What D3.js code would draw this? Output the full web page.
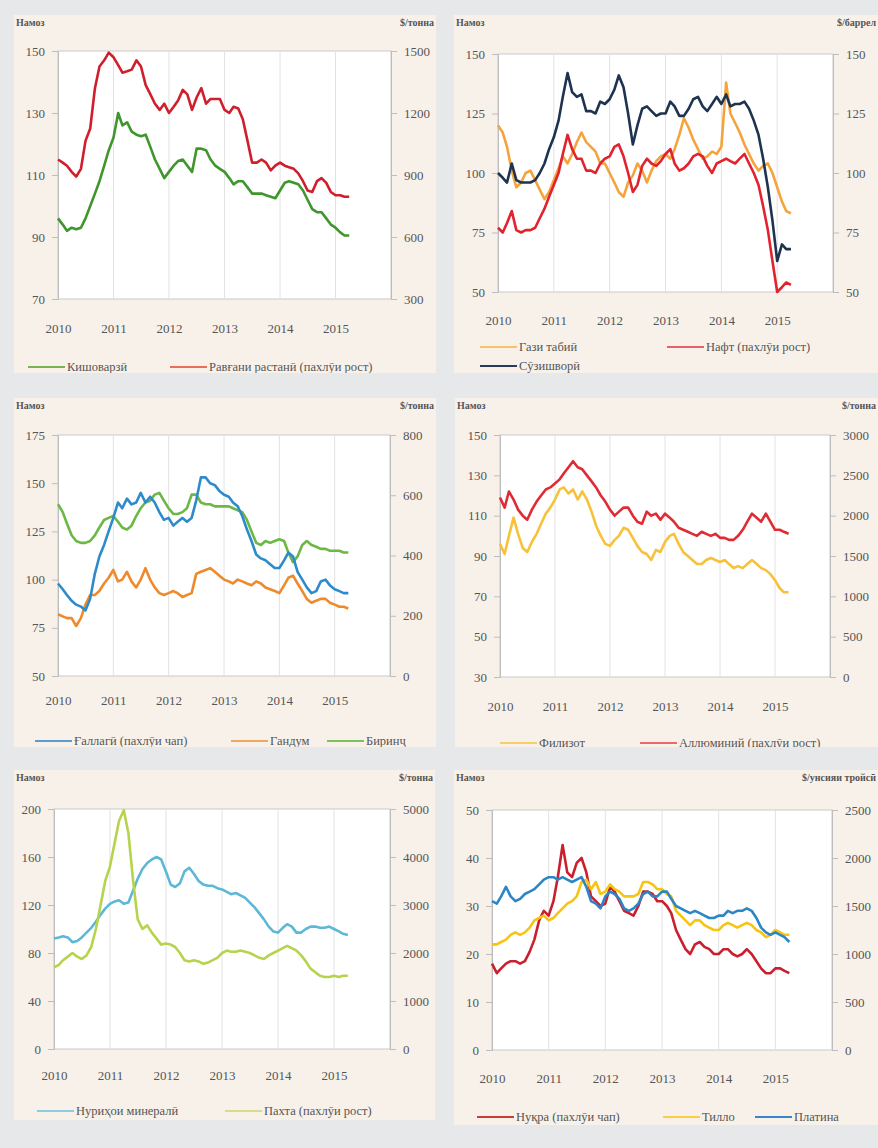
<!DOCTYPE html>
<html><head><meta charset="utf-8">
<script src="https://cdn.jsdelivr.net/npm/d3@7"></script>
<style>
body{margin:0;background:#e6e8ea;}
svg{display:block;}
svg text{font-family:"Liberation Serif","DejaVu Serif",serif;}
</style></head>
<body>
<svg id="chart" width="878" height="1148"></svg>
<script>
// ---------- DATA (monthly, Jan 2010 – Apr 2015) ----------
const yearLabels = ["2010","2011","2012","2013","2014","2015"];

// Panel 1
const agriculture = [96,94,92,93,92.5,93,96,100,104,108,113,118, 122,130,126,127,124,123,122.5,123,119,115,112,109, 111,113,114.5,115,113,111,118.5,118.5,118,115,113,112, 111,109,107,108,108,106,104,104,104,103.5,103,102.5, 105,107.5,108,107.5,107,105,102,99,98,98,96,94, 93,91.5,90.5,90.5];
const vegOil = [975,960,945,915,892,930,1065,1125,1320,1425,1455,1492, 1470,1432,1395,1402,1410,1455,1425,1335,1290,1245,1215,1245, 1200,1230,1260,1312,1290,1215,1275,1320,1245,1268,1268,1268, 1215,1200,1230,1222,1170,1065,960,960,975,960,922,945, 960,945,938,930,908,870,825,818,870,885,862,818, 802,802,795,795];

// Panel 2
const natGas = [120,117,111,101,94,96,100,101,97,93,89,92, 97,102,107,104,108,113,117,113,111,109,104,104, 100,96,92,90,96,99,104,101,96,101,105,107, 108,106,110,116,123,119,114,110,106,107,109,108, 111,138,125,121,117,112,108,104,101,103,104,100, 94,88,84,83];
const oil = [77,75,79,84,76,75,76,76,77,81,85,90, 95,100,108,116,110,106,106,101,101,100,104,106, 107,111,112,107,100,92,95,103,106,104,103,105, 108,110,104,101,102,104,107,108,107,103,100,104, 105,106,105,104,106,108,104,100,95,86,76,63, 50,52,54,53];
const energy = [100,98,96,104,97,96,96,96,97,100,104,110, 115,122,132,142,134,132,133,126,126,125,130,129, 131,135,141,136,125,112,120,127,128,126,124,125, 125,130,128,124,124,127,131,132,128,126,129,132, 129,133,128,129,129,130,127,122,116,106,94,80, 63,70,68,68];

// Panel 3
const grains = [98,95,92,89,87,86,84,90,103,112,118,125, 132,140,137,142,139,140,145,140,143,140,135,131, 132,128,130,132,130,132,141,153,153,150,149,146, 144,143,140,138,133,126,120,113,111,110,108,106, 106,110,114,112,104,100,96,93,94,99,100,97, 95,94,93,93];
const wheat = [205,198,192,192,166,192,237,269,269,282,307,326, 352,314,320,346,314,294,320,358,320,294,275,269, 275,282,275,262,269,275,339,346,352,358,346,333, 320,314,307,320,314,307,301,314,307,294,288,282, 275,301,326,333,307,282,256,243,250,256,256,243, 237,230,230,224];
const rice = [570,544,506,467,448,442,442,448,467,493,518,525, 531,512,493,486,499,531,557,576,582,602,608,582, 557,538,538,544,557,602,602,576,570,570,563,563, 563,563,557,550,544,518,480,442,435,448,442,448, 454,448,410,378,397,435,448,435,429,422,422,416, 416,416,410,410];

// Panel 4
const metals = [96,91,100,109,101,94,92,97,101,106,111,114, 118,123,124,121,123,118,122,118,112,105,100,96, 95,98,100,104,103,99,95,92,91,88,93,92, 97,100,101,96,92,90,88,86,86,88,89,88, 87,88,86,84,85,84,86,88,86,84,83,81, 78,74,72,72];
const aluminium = [2225,2100,2300,2200,2075,2000,1950,2075,2175,2250,2325,2350, 2400,2450,2525,2600,2675,2600,2575,2500,2425,2350,2250,2175, 2075,2000,2050,2100,2100,2000,1925,1900,2050,2000,2025,1950, 2025,1975,1925,1850,1825,1800,1775,1750,1800,1775,1750,1775, 1725,1725,1700,1700,1750,1825,1925,2025,1975,1925,2025,1925, 1825,1825,1800,1775];

// Panel 5
const fertilizers = [92,93,94,93,89,90,93,97,101,106,112,117, 121,123,124,121,122,132,142,150,155,158,160,158, 148,137,135,138,148,151,146,140,137,136,136,134, 133,131,129,130,128,126,122,118,113,108,102,98, 97,101,104,102,97,97,100,102,102,101,101,102, 100,98,96,95];
const cotton = [1700,1750,1850,1925,2000,1925,1875,1950,2125,2500,3000,3500, 3800,4300,4750,4975,4500,3500,2700,2500,2575,2425,2300,2175, 2200,2175,2125,2000,1850,1825,1850,1825,1775,1800,1850,1900, 2000,2050,2025,2025,2050,2025,2000,1950,1900,1875,1950,2000, 2050,2100,2150,2100,2050,1950,1825,1675,1600,1525,1500,1500, 1525,1500,1525,1525];

// Panel 6
const silver = [18,16,17,18,18.5,18.5,18,18.5,20.5,23,27,29, 28,31,36,42.7,37,36,39,40,37,32,31,30, 30.5,34,33,31,29,28.5,28,30,33,33,32.5,31, 31,30,28.5,25,23,21,20,22,22.5,21.5,21,20, 20,21,21,20,19.5,20,21,20,18.5,17,16,16, 17,17,16.5,16];
const gold = [1100,1100,1125,1150,1200,1225,1200,1225,1275,1350,1375,1400, 1350,1375,1425,1475,1525,1550,1600,1750,1775,1675,1750,1625, 1650,1725,1675,1650,1600,1600,1600,1625,1750,1750,1725,1675, 1675,1625,1600,1450,1400,1350,1300,1350,1350,1300,1275,1250, 1250,1300,1325,1300,1275,1300,1325,1300,1250,1225,1175,1200, 1250,1225,1200,1200];
const platinum = [1550,1525,1600,1700,1600,1550,1575,1625,1650,1675,1725,1775, 1800,1800,1775,1800,1775,1750,1775,1800,1700,1550,1525,1475, 1600,1650,1625,1575,1475,1450,1475,1525,1625,1650,1600,1600, 1650,1650,1575,1500,1475,1450,1425,1450,1425,1400,1375,1375, 1400,1400,1450,1425,1450,1450,1475,1450,1375,1275,1225,1200, 1225,1200,1175,1125];

// Axis ticks
const p1Left = [70,90,110,130,150], p1Right = [300,600,900,1200,1500];
const p2Left = [50,75,100,125,150], p2Right = [50,75,100,125,150];
const p3Left = [50,75,100,125,150,175], p3Right = [0,200,400,600,800];
const p4Left = [30,50,70,90,110,130,150], p4Right = [0,500,1000,1500,2000,2500,3000];
const p5Left = [0,40,80,120,160,200], p5Right = [0,1000,2000,3000,4000,5000];
const p6Left = [0,10,20,30,40,50], p6Right = [0,500,1000,1500,2000,2500];

// ---------- LAYOUT ----------
const months = d3.timeMonth.range(new Date(2010,0,1), new Date(2015,4,1));
const FONT = "Liberation Serif";

const panels = [
 {box:[14,15,422,358], plot:[58,51,391,299], ld:[70,150], rd:[300,1500], lt:p1Left, rt:p1Right, rtitle:"$/тонна", xly:332,
  series:[{v:vegOil,ax:"r",c:"#cf1f2c"},{v:agriculture,ax:"l",c:"#3f962c"}],
  legend:[{x:28,y:367,c:"#7ab356",t:"Кишоварзӣ"},{x:170,y:367,c:"#e8705a",t:"Равғани растанӣ (пахлӯи рост)"}]},
 {box:[454,15,424,358], plot:[498,54,833,292], ld:[50,150], rd:[50,150], lt:p2Left, rt:p2Right, rtitle:"$/баррел", xly:324,
  series:[{v:natGas,ax:"l",c:"#f4a43c"},{v:oil,ax:"r",c:"#e0232f"},{v:energy,ax:"l",c:"#1d3350"}],
  legend:[{x:480,y:347,c:"#f6c26a",t:"Гази табиӣ"},{x:667,y:347,c:"#e8606a",t:"Нафт (пахлӯи рост)"},{x:480,y:366,c:"#2a3a5a",t:"Сӯзишворӣ"}]},
 {box:[14,398,422,349], plot:[58,435,390,676], ld:[50,175], rd:[0,800], lt:p3Left, rt:p3Right, rtitle:"$/тонна", xly:704,
  series:[{v:rice,ax:"r",c:"#6bb844"},{v:wheat,ax:"r",c:"#ef8a2c"},{v:grains,ax:"l",c:"#2e8bcb"}],
  legend:[{x:35,y:741,c:"#5b9bd0",t:"Ғаллагӣ (пахлӯи чап)"},{x:231,y:741,c:"#f0a860",t:"Гандум"},{x:327,y:741,c:"#7cc060",t:"Биринҷ"}]},
 {box:[455,398,423,349], plot:[500,435,830,677], ld:[30,150], rd:[0,3000], lt:p4Left, rt:p4Right, rtitle:"$/тонна", xly:710,
  series:[{v:metals,ax:"l",c:"#f8c13a"},{v:aluminium,ax:"r",c:"#e02b35"}],
  legend:[{x:500,y:743,c:"#f7cf6a",t:"Филизот"},{x:640,y:743,c:"#e86a6a",t:"Аллюминий (пахлӯи рост)"}]},
 {box:[14,770,421,350], plot:[54,809,390,1049], ld:[0,200], rd:[0,5000], lt:p5Left, rt:p5Right, rtitle:"$/тонна", xly:1079,
  series:[{v:fertilizers,ax:"l",c:"#5cb8d6"},{v:cotton,ax:"r",c:"#b6d44b"}],
  legend:[{x:37,y:1111,c:"#8ccbe0",t:"Нуриҳои минералӣ"},{x:225,y:1111,c:"#d2de8a",t:"Пахта (пахлӯи рост)"}]},
 {box:[454,770,424,355], plot:[492,810,832,1050], ld:[0,50], rd:[0,2500], lt:p6Left, rt:p6Right, rtitle:"$/унсияи тройсӣ", xly:1082,
  series:[{v:silver,ax:"l",c:"#c91f2e"},{v:gold,ax:"r",c:"#f8c40f"},{v:platinum,ax:"r",c:"#2c85c5"}],
  legend:[{x:477,y:1117,c:"#cc3a3a",t:"Нуқра (пахлӯи чап)"},{x:663,y:1117,c:"#f8d040",t:"Тилло"},{x:755,y:1117,c:"#3a86c8",t:"Платина"}]}
];

const svg = d3.select("#chart");
svg.append("rect").attr("width",878).attr("height",1148).attr("fill","#e6e8ea");
const defs = svg.append("defs");

panels.forEach((p,i)=>{
  const [bx,by,bw,bh] = p.box;
  const [pl,pt,pr,pb] = p.plot;
  defs.append("clipPath").attr("id","clip"+i).append("rect").attr("x",bx).attr("y",by).attr("width",bw).attr("height",bh);
  const g = svg.append("g").attr("clip-path",`url(#clip${i})`).attr("font-family",FONT);
  g.append("rect").attr("x",bx).attr("y",by).attr("width",bw).attr("height",bh).attr("fill","#f8f1ea");

  const x = d3.scaleTime().domain([new Date(2010,0,1), new Date(2016,0,1)]).range([pl,pr]);
  const yl = d3.scaleLinear().domain(p.ld).range([pb,pt]);
  const yr = d3.scaleLinear().domain(p.rd).range([pb,pt]);

  g.append("rect").attr("x",pl).attr("y",pt).attr("width",pr-pl).attr("height",pb-pt)
    .attr("fill","#ffffff").attr("stroke","#c9c9c9").attr("stroke-width",1);

  const years = d3.timeYear.range(new Date(2011,0,1), new Date(2016,0,1));
  g.selectAll(null).data(years).join("line")
    .attr("x1",d=>x(d)).attr("x2",d=>x(d)).attr("y1",pt).attr("y2",pb)
    .attr("stroke","#e2e2e2").attr("stroke-width",1);

  const la = g.append("g").attr("transform",`translate(${pl},0)`)
    .call(d3.axisLeft(yl).tickValues(p.lt).tickSize(6).tickPadding(7).tickFormat(d3.format("d")));
  const ra = g.append("g").attr("transform",`translate(${pr},0)`)
    .call(d3.axisRight(yr).tickValues(p.rt).tickSize(6).tickPadding(7).tickFormat(d3.format("d")));
  const ba = g.append("g").attr("transform",`translate(0,${pb})`)
    .call(d3.axisBottom(x).ticks(d3.timeYear.every(1)).tickSize(0).tickPadding(p.xly-pb-8)
      .tickFormat((d,k)=>yearLabels[k]||""));
  [la,ra,ba].forEach(a=>{
    a.attr("font-family",FONT).attr("font-size",13);
    a.select(".domain").attr("stroke","#bdbdbd");
    a.selectAll(".tick line").attr("stroke","#bdbdbd");
    a.selectAll("text").attr("fill","#555");
  });
  ba.select(".domain").remove();

  g.append("text").attr("x",bx+2).attr("y",by+11).text("Намоз")
    .attr("fill","#555").attr("font-size",10).attr("font-weight","bold");
  g.append("text").attr("x",bx+bw-2).attr("y",by+11).text(p.rtitle).attr("text-anchor","end")
    .attr("fill","#555").attr("font-size",10).attr("font-weight","bold");

  p.series.forEach(s=>{
    const ys = s.ax==="l"?yl:yr;
    const line = d3.line().x((d,k)=>x(months[k])).y(d=>ys(d)).curve(d3.curveLinear);
    g.append("path").datum(s.v).attr("d",line).attr("fill","none")
      .attr("stroke",s.c).attr("stroke-width",2.6).attr("stroke-linejoin","round");
  });

  p.legend.forEach(l=>{
    g.append("line").attr("x1",l.x).attr("x2",l.x+37).attr("y1",l.y).attr("y2",l.y)
      .attr("stroke",l.c).attr("stroke-width",2);
    g.append("text").attr("x",l.x+39).attr("y",l.y+4).text(l.t)
      .attr("fill","#555").attr("font-size",12.5);
  });
});
</script>
</body></html>
